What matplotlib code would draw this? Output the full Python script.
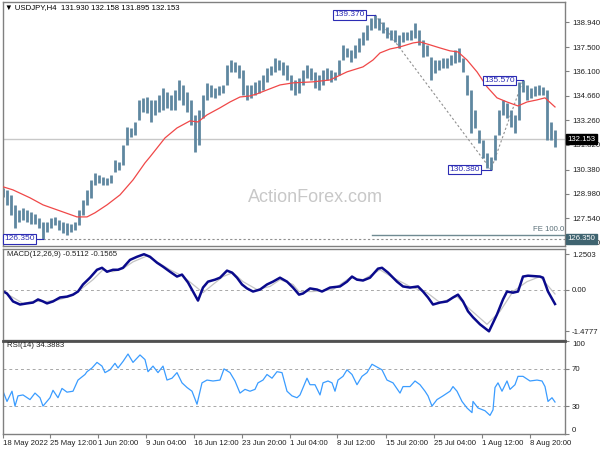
import matplotlib
matplotlib.use("Agg")
import matplotlib.pyplot as plt

plt.rcParams['font.family'] = ['Liberation Sans', 'DejaVu Sans']

# USDJPY H4, one slot ~ 2.5 bars of the original chart
high = [129.32, 129.20, 128.91, 128.33, 128.04, 128.16, 128.04, 127.92, 127.81, 127.57,
        127.34, 127.34, 127.57, 127.63, 127.46, 127.34, 127.28, 127.23, 127.34, 128.04,
        128.62, 129.20, 129.78, 130.19, 130.07, 129.96, 129.90, 130.07, 130.94, 130.83,
        131.82, 132.86, 132.80, 133.15, 134.43, 134.55, 134.60, 134.43, 134.43, 134.72,
        135.13, 134.89, 134.72, 135.01, 135.59, 135.30, 134.89, 134.43, 133.56, 133.85,
        134.72, 135.42, 135.30, 135.13, 135.24, 135.30, 136.46, 136.75, 136.64, 136.46,
        136.17, 135.30, 135.30, 135.48, 135.59, 135.88, 136.29, 136.41, 136.87, 136.75,
        136.64, 136.46, 135.88, 135.59, 135.71, 136.17, 136.46, 136.29, 136.06, 135.88,
        136.17, 136.29, 136.17, 136.06, 136.75, 137.63, 137.45, 137.33, 137.63, 138.03,
        138.38, 138.79, 139.19, 139.37, 139.19, 138.96, 138.67, 138.50, 138.50, 138.21,
        138.38, 138.38, 138.50, 138.90, 138.50, 137.92, 137.63, 136.93, 136.75, 136.75,
        136.87, 136.87, 137.04, 137.33, 137.45, 136.87, 135.88, 135.01, 133.85, 132.69,
        132.11, 131.35, 131.12, 132.40, 133.85, 134.43, 134.26, 133.85, 133.56, 135.48,
        135.57, 135.30, 135.13, 135.24, 135.30, 135.19, 135.01, 133.15, 132.69]
low = [128.79, 128.33, 127.75, 126.99, 127.34, 127.46, 127.34, 127.23, 127.23, 126.99,
       126.35, 126.76, 126.99, 127.17, 126.88, 126.70, 126.59, 126.76, 126.88, 127.17,
       127.75, 128.33, 128.74, 129.49, 129.61, 129.49, 129.49, 129.61, 130.25, 130.36,
       130.65, 131.82, 132.28, 132.40, 133.27, 133.73, 133.67, 133.15, 133.56, 133.73,
       133.85, 133.97, 133.85, 133.85, 134.43, 134.14, 133.73, 132.98, 131.41, 131.82,
       133.38, 134.43, 134.60, 134.55, 134.72, 134.84, 135.30, 136.06, 136.06, 135.71,
       134.72, 134.43, 134.55, 134.72, 134.84, 135.01, 135.48, 135.88, 136.06, 136.17,
       135.88, 135.59, 135.01, 134.72, 134.84, 135.30, 135.71, 135.59, 135.13, 135.01,
       135.30, 135.59, 135.48, 135.59, 135.88, 136.75, 136.93, 136.64, 136.87, 137.22,
       137.63, 137.92, 138.50, 138.61, 138.50, 138.32, 138.03, 137.92, 137.80, 137.45,
       137.80, 137.92, 137.92, 138.03, 137.63, 136.93, 136.99, 135.59, 136.00, 136.17,
       136.29, 136.29, 136.46, 136.58, 136.64, 136.06, 134.72, 132.51, 132.80, 131.93,
       131.06, 130.48, 130.38, 130.94, 132.40, 133.56, 133.38, 132.86, 132.51, 133.27,
       134.89, 134.43, 134.55, 134.66, 134.72, 134.72, 132.11, 132.11, 131.70]

ma_x = [0, 2.5, 6.75, 10, 14.25, 18.5, 21, 23, 26, 29.25, 32.5, 35.5, 36.75, 40.5, 43.5,
        46.75, 48.75, 51, 54.25, 56.75, 59.25, 61.75, 63.5, 66, 69.25, 72.5, 77.5, 81.75,
        86, 90, 92.5, 94.25, 96.75, 99.25, 102.5, 104.25, 106.75, 109.25, 111.75, 113.75,
        116, 118.5, 121, 123.5, 126, 128.75, 131, 133.5, 135.5, 138]
ma_val = [129.38, 129.20, 128.74, 128.33, 127.98, 127.63, 127.63, 127.87, 128.33, 128.91,
          129.78, 130.77, 131.12, 132.22, 132.80, 133.21, 133.15, 133.56, 133.97, 134.31,
          134.60, 134.66, 134.78, 135.01, 135.30, 135.42, 135.48, 135.59, 136.06, 136.35,
          136.75, 137.16, 137.39, 137.51, 137.74, 137.80, 137.63, 137.45, 137.28, 137.22,
          136.75, 136.06, 135.19, 134.55, 134.31, 134.08, 134.31, 134.43, 134.55, 134.02]

macd_x = [0, 1, 2.5, 4.25, 6, 7.5, 8.75, 10, 11, 12.5, 14.25, 16, 17.5, 18.75, 20, 21.75,
          23.5, 24.75, 26, 27.5, 28.75, 30, 31.75, 33.5, 35.25, 36.75, 38.5, 40, 41.75,
          43.5, 44.75, 46.25, 47.5, 48.75, 50, 51.25, 53, 54.25, 56, 57.25, 58.5, 59.75,
          61, 62.5, 64.25, 66, 67.5, 69.25, 71, 72.5, 74, 75, 76.75, 78.5, 79.75, 81.75,
          84.25, 86, 87.25, 88.5, 90, 91.75, 93.75, 94.75, 96.25, 98.5, 100, 101.75,
          103.75, 105, 106.25, 107.5, 109.25, 111, 112.5, 113.75, 115, 116.25, 117.5,
          119.25, 121.5, 123.5, 125, 126, 127.5, 128.75, 130, 131.25, 134.25, 135, 136.25, 138]
macd_val = [-0.06, -0.14, -0.42, -0.53, -0.49, -0.46, -0.35, -0.42, -0.49, -0.42, -0.28,
            -0.25, -0.18, -0.07, 0.18, 0.42, 0.70, 0.77, 0.63, 0.70, 0.70, 0.77, 1.05, 1.16,
            1.2503, 1.16, 0.95, 0.81, 0.63, 0.46, 0.53, 0.25, -0.07, -0.39, 0.07, 0.28, 0.35,
            0.42, 0.67, 0.60, 0.42, 0.18, 0.04, -0.07, 0.00, 0.18, 0.28, 0.42, 0.28, 0.07,
            -0.18, -0.14, 0.04, 0.00, -0.07, 0.07, 0.11, 0.28, 0.46, 0.35, 0.32, 0.42, 0.74,
            0.77, 0.60, 0.28, 0.11, 0.07, 0.11, -0.07, -0.28, -0.53, -0.46, -0.42, -0.28,
            -0.18, -0.42, -0.77, -0.98, -1.23, -1.4777, -0.88, -0.35, -0.07, -0.11, -0.07,
            0.46, 0.49, 0.46, 0.42, -0.07, -0.5112]

signal_x = [0, 2.5, 5, 7.5, 11, 14.25, 17.5, 20, 22.5, 25, 27.5, 30, 32.5, 36, 38.5, 41.75,
            44.75, 47.5, 50, 52.5, 55, 57.5, 60, 63.5, 66.75, 69.25, 72.5, 74, 77.5, 82.5,
            86.75, 90, 94.25, 97.5, 101.75, 106, 109.25, 113.5, 116.75, 121, 124.25, 127.5,
            131, 134.25, 138]
signal_val = [-0.07, -0.28, -0.49, -0.42, -0.42, -0.35, -0.21, 0.07, 0.35, 0.70, 0.63, 0.74,
              0.98, 1.19, 0.98, 0.70, 0.49, 0.18, -0.11, 0.18, 0.46, 0.60, 0.28, 0.00, 0.11,
              0.35, 0.18, -0.07, -0.07, 0.00, 0.42, 0.35, 0.70, 0.42, 0.11, -0.11, -0.46,
              -0.25, -0.70, -1.23, -0.77, -0.07, 0.28, 0.46, -0.1565]

rsi_x = [0, 1, 2.25, 3, 3.75, 5, 6.75, 8, 9.25, 10, 11.75, 12.5, 13.75, 14.75, 16, 17.5,
         18.75, 20.5, 21, 22.25, 23.5, 24.75, 25.5, 26.75, 28, 28.75, 30, 31.25, 32.5,
         34.25, 35.5, 36.25, 37.5, 38.75, 40, 41, 42.25, 43.5, 44.75, 46, 47.25, 48.5,
         49.75, 51, 52.5, 54.25, 55.25, 56.75, 58, 59.25, 60.5, 61.75, 63, 63.75, 65, 66,
         67.25, 68.5, 69.75, 71, 72.25, 73.5, 74.25, 76, 76.75, 78, 79.25, 80, 81.25, 82.25,
         83, 83.75, 85, 86, 87.25, 88.5, 89.75, 91, 92.25, 93.5, 94.75, 96, 97.5, 99.25,
         100, 101.75, 103, 104.25, 105.5, 106.25, 107.25, 108.5, 110, 111.75, 112.5, 113.5,
         114.75, 116, 117.25, 117.5, 118.75, 120.5, 121.75, 122.5, 123, 123.75, 124.75, 126,
         126.75, 128, 128.75, 130, 131.75, 133.5, 134.75, 135.5, 136.25, 137.25, 138]
rsi_val = [46, 35, 46, 30, 41, 42, 37, 44, 39, 30, 39, 47, 39, 49, 45, 46, 58, 64, 67, 71,
           77, 73, 66, 69, 76, 71, 78, 86, 77, 85, 80, 67, 73, 66, 73, 58, 60, 66, 55, 50,
           46, 32, 55, 58, 57, 58, 70, 66, 57, 44, 48, 46, 48, 55, 58, 64, 60, 67, 66, 46,
           41, 39, 42, 60, 53, 53, 42, 55, 57, 55, 46, 58, 62, 69, 64, 53, 62, 66, 75, 72,
           69, 58, 55, 44, 51, 51, 57, 53, 46, 41, 30, 37, 41, 46, 51, 46, 35, 28, 23, 35,
           28, 25, 20, 26, 50, 55, 46, 57, 48, 53, 62, 62, 57, 58, 57, 51, 35, 39, 34.39]

price_ticks = [138.94, 137.50, 136.10, 134.66, 133.26, 131.82, 130.38, 128.98, 127.54, 126.14]
date_pos = [0, 11.75, 23.75, 35.75, 47.75, 59.75, 71.75, 83.5, 95.75, 107.75, 119.75, 131.75]
date_labels = ['18 May 2022', '25 May 12:00', '1 Jun 20:00', '9 Jun 04:00', '16 Jun 12:00',
               '23 Jun 20:00', '1 Jul 04:00', '8 Jul 12:00', '15 Jul 20:00', '25 Jul 04:00',
               '1 Aug 12:00', '8 Aug 20:00']

last_price = 132.153
fe_level = 126.58
swing_hi, swing_lo, swing_mid, range_lo = 139.37, 130.38, 135.57, 126.35

BAR_C = '#5f87a0'
BOX_C = '#2c2cb4'
GRID_C = '#a8a8a8'
FRAME = '#808080'
FS = 5.6

fig = plt.figure(figsize=(6, 4.5), dpi=100)
L, W = 2.5 / 600, 562.5 / 600
ax = fig.add_axes([L, 1 - 246 / 450, W, 244 / 450])
ax2 = fig.add_axes([L, 1 - 340 / 450, W, 91 / 450])
ax3 = fig.add_axes([L, 1 - 434 / 450, W, 93 / 450])

slots = list(range(len(high)))
for a in (ax, ax2, ax3):
    a.set_xlim(-0.125, 140.5)
    for s in a.spines.values():
        s.set_color(FRAME)
        s.set_linewidth(1)
    a.yaxis.tick_right()
    a.tick_params(axis='y', direction='out', length=3, width=0.8, pad=2,
                  labelsize=FS, colors=FRAME, labelcolor='#202020')

# ---- main price panel
ax.set_ylim(125.94, 140.12)
ax.axhline(last_price, color='#c8c8c8', lw=1, zorder=0)
ax.vlines(slots, low, high, color=BAR_C, lw=2.0, zorder=2)
ax.plot(ma_x, ma_val, color='#f04848', lw=0.9, zorder=3)

# fibonacci expansion lines
ax.plot([93, 122, 130], [swing_hi, swing_lo, swing_mid], color='#909090',
        lw=0.8, ls=(0, (2, 2)), zorder=1)
ax.axhline(range_lo, color='#909090', lw=0.8, ls=(0, (2, 2)), zorder=1)
ax.plot([92.25, 140.5], [fe_level, fe_level], color='#6f8a92', lw=1, zorder=1)
ax.text(0.999, fe_level + 0.12, 'FE 100.0', transform=ax.get_yaxis_transform(),
        ha='right', va='bottom', fontsize=FS, color='#5a6f78')

# swing labels
for bx, tx, p in [(90.5, 93, swing_hi), (128, 130, swing_mid),
                  (119.25, 122, swing_lo), (8, 10, range_lo)]:
    ax.plot([bx, tx], [p, p], color=BOX_C, lw=0.8, zorder=4)
    ax.text(bx, p, f'{p:.3f}', ha='right', va='center', fontsize=FS + 0.4, color=BOX_C,
            zorder=5, bbox=dict(boxstyle='square,pad=0.15', fc='white', ec=BOX_C, lw=0.8))

ax.set_yticks(price_ticks)
ax.set_yticklabels([f'{t:.3f}' for t in price_ticks])
ax.set_xticks([])
ax.text(1.004, last_price, f'{last_price:.3f}', transform=ax.get_yaxis_transform(),
        ha='left', va='center', fontsize=FS, color='white', clip_on=False, zorder=6,
        bbox=dict(boxstyle='square,pad=0.18', fc='black', ec='black'))
ax.text(1.004, range_lo, f'{range_lo:.3f}', transform=ax.get_yaxis_transform(),
        ha='left', va='center', fontsize=FS, color='white', clip_on=False, zorder=6,
        bbox=dict(boxstyle='square,pad=0.18', fc='#3f6470', ec='#3f6470'))

ax.text(0.004, 0.99, '\u25bc USDJPY,H4  131.930 132.158 131.895 132.153',
        transform=ax.transAxes, ha='left', va='top', fontsize=FS, color='black')
ax.text(0.556, 0.197, 'ActionForex.com', transform=ax.transAxes, ha='center',
        va='center', fontsize=13, color='#c8c8c8', zorder=0)

# ---- MACD panel
ax2.set_ylim(-1.785, 1.435)
ax2.axhline(0, color=GRID_C, lw=0.7, ls=(0, (3, 3)))
ax2.plot(signal_x, signal_val, color='#c4c4c4', lw=0.9)
ax2.plot(macd_x, macd_val, color='#0a0a8c', lw=1.8)
ax2.set_yticks([1.2503, 0.0, -1.4777])
ax2.set_yticklabels(['1.2503', '0.00', '-1.4777'])
ax2.set_xticks([])
ax2.text(0.008, 0.975, 'MACD(12,26,9) -0.5112 -0.1565', transform=ax2.transAxes,
         ha='left', va='top', fontsize=FS, color='#202020')

# ---- RSI panel
ax3.set_ylim(0, 100)
for lvl in (70, 30):
    ax3.axhline(lvl, color=GRID_C, lw=0.7, ls=(0, (3, 3)))
ax3.plot(rsi_x, rsi_val, color='#3a9cff', lw=0.9)
ax3.set_yticks([100, 70, 30, 0])
ax3.set_yticklabels(['100', '70', '30', '0'])
ylbl = ax3.get_yticklabels()
ylbl[0].set_va('top')
ylbl[-1].set_va('bottom')
ax3.set_xticks(date_pos)
ax3.set_xticklabels(date_labels, ha='left')
ax3.tick_params(axis='x', direction='out', length=3, width=0.8, pad=1, labelsize=FS,
                colors=FRAME, labelcolor='#202020')
ax3.text(0.008, 0.985, 'RSI(14) 34.3883', transform=ax3.transAxes,
         ha='left', va='top', fontsize=FS, color='#202020')
ax3.spines['top'].set_linewidth(2)
ax3.spines['top'].set_color('#505050')

fig.savefig('out.png', dpi=100)
